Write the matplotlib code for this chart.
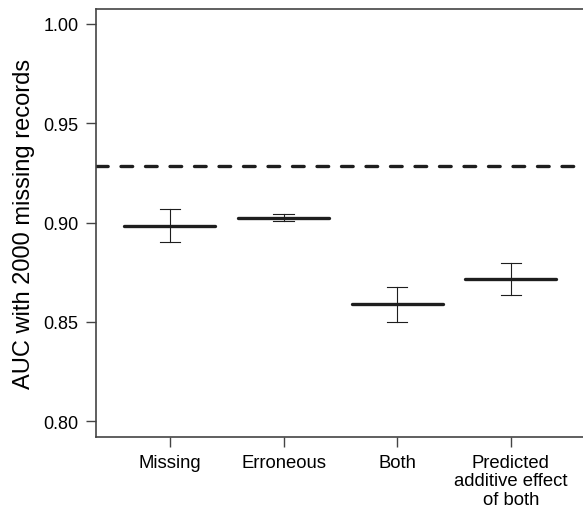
import matplotlib
matplotlib.use("Agg")
import matplotlib.pyplot as plt

plt.rcParams['font.family'] = ['Liberation Sans', 'DejaVu Sans']

categories = ["Missing", "Erroneous", "Both", "Predicted\nadditive effect\nof both"]
means = [0.8983, 0.9024, 0.8588, 0.8717]
upper = [0.9067, 0.9041, 0.8673, 0.8797]
lower = [0.8902, 0.9007, 0.8500, 0.8636]
baseline = 0.9287
yticks = [0.80, 0.85, 0.90, 0.95, 1.00]

fig = plt.figure(figsize=(5.83, 5.10), dpi=100)
ax = fig.add_axes([0.1647, 0.1418, 0.8383, 0.8386])

pos = list(range(1, len(categories) + 1))
ink = "#1e1e1e"

ax.axhline(baseline, color=ink, lw=2.4, ls=(0, (3.5, 3.85)), dash_capstyle='round')

for x, m, lo, hi in zip(pos, means, lower, upper):
    ax.plot([x - 0.4, x + 0.4], [m, m], color=ink, lw=2.4, solid_capstyle='round')
    ax.plot([x, x], [lo, hi], color=ink, lw=0.8)
    ax.plot([x - 0.09, x + 0.09], [hi, hi], color=ink, lw=0.8)
    ax.plot([x - 0.09, x + 0.09], [lo, lo], color=ink, lw=0.8)

ax.set_xlim(0.35, 4.65)
ax.set_ylim(0.7922, 1.0075)
ax.set_xticks(pos)
ax.set_xticklabels(categories, fontsize=13.3, va='top', linespacing=1.1)
ax.set_yticks(yticks)
ax.set_yticklabels(["%.2f" % v for v in yticks], fontsize=13)
ax.tick_params(axis='both', direction='out', length=7, width=1, color="#444444",
               pad=5.5)
for s in ax.spines.values():
    s.set_color("#444444")
    s.set_linewidth(1.2)
ax.set_ylabel("AUC with 2000 missing records", fontsize=17, labelpad=6)

fig.savefig("out.png", dpi=100)
